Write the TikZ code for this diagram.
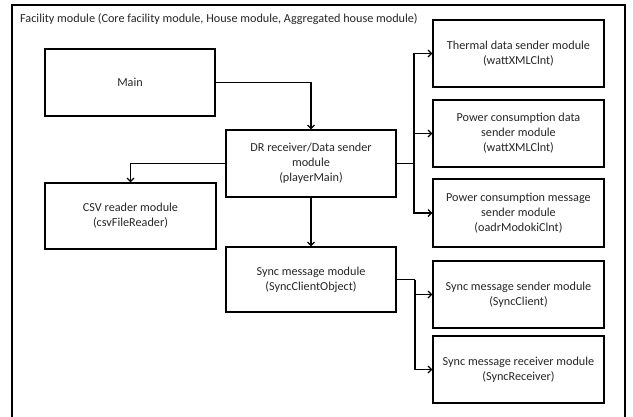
\documentclass[tikz,border=0pt]{standalone}
\usepackage{fontspec}
\setmainfont{Carlito}
\usetikzlibrary{arrows.meta}
\begin{document}
\begin{tikzpicture}[x=1pt,y=-1pt,
  box/.style={draw=black,line width=1.3pt,minimum width=170pt,minimum height=67pt,align=center,
    font=\fontsize{12.2}{15}\selectfont,text=black!85,inner sep=2pt},
  conn/.style={draw=black,line width=1.3pt},
  arr/.style={conn,-{Straight Barb[length=3.5pt,width=7pt,line width=1.2pt]}}]
\clip (0,0) rectangle (633,416);
\draw[line width=1.3pt] (12,5) rectangle (625,440);
\node[anchor=west,font=\fontsize{12.2}{15}\selectfont,text=black!85,inner sep=0pt] (title) at (20,19)
  {Facility module (Core facility module, House module, Aggregated house module)};
\node[box] (main) at (130,82.5) {Main};
\node[box] (dr) at (311,163.5) {DR receiver/Data sender\\module\\(playerMain)};
\node[box,minimum width=171pt,minimum height=66pt] (csv) at (130.5,216) {CSV reader module\\(csvFileReader)};
\node[box,minimum height=65pt] (sync) at (311,279.5) {Sync message module\\(SyncClientObject)};
\node[box,minimum width=171pt] (thermal) at (518.5,53.5) {Thermal data sender module\\(wattXMLClnt)};
\node[box,minimum width=171pt] (pdata) at (518.5,133.5) {Power consumption data\\sender module\\(wattXMLClnt)};
\node[box,minimum width=171pt,minimum height=68pt] (pmsg) at (518.5,213) {Power consumption message\\sender module\\(oadrModokiClnt)};
\node[box,minimum width=171pt] (ssend) at (518.5,294.5) {Sync message sender module\\(SyncClient)};
\node[box,minimum width=171pt] (srecv) at (518.5,369.5) {Sync message receiver module\\(SyncReceiver)};
\coordinate (bus1) at (414,163.5);
\coordinate (bus2) at (415,279.5);
\draw[arr] (main.east) -| (dr.north);
\draw[arr] (dr.west) -| (csv.north);
\draw[arr] (dr.south) -- (sync.north);
\draw[conn] (dr.east) -- (bus1);
\draw[arr] (bus1) |- (thermal.west);
\draw[arr] (bus1) |- (pdata.west);
\draw[arr] (bus1) |- (pmsg.west);
\draw[conn] (sync.east) -- (bus2);
\draw[arr] (bus2) |- (ssend.west);
\draw[arr] (bus2) |- (srecv.west);
\end{tikzpicture}
\end{document}
